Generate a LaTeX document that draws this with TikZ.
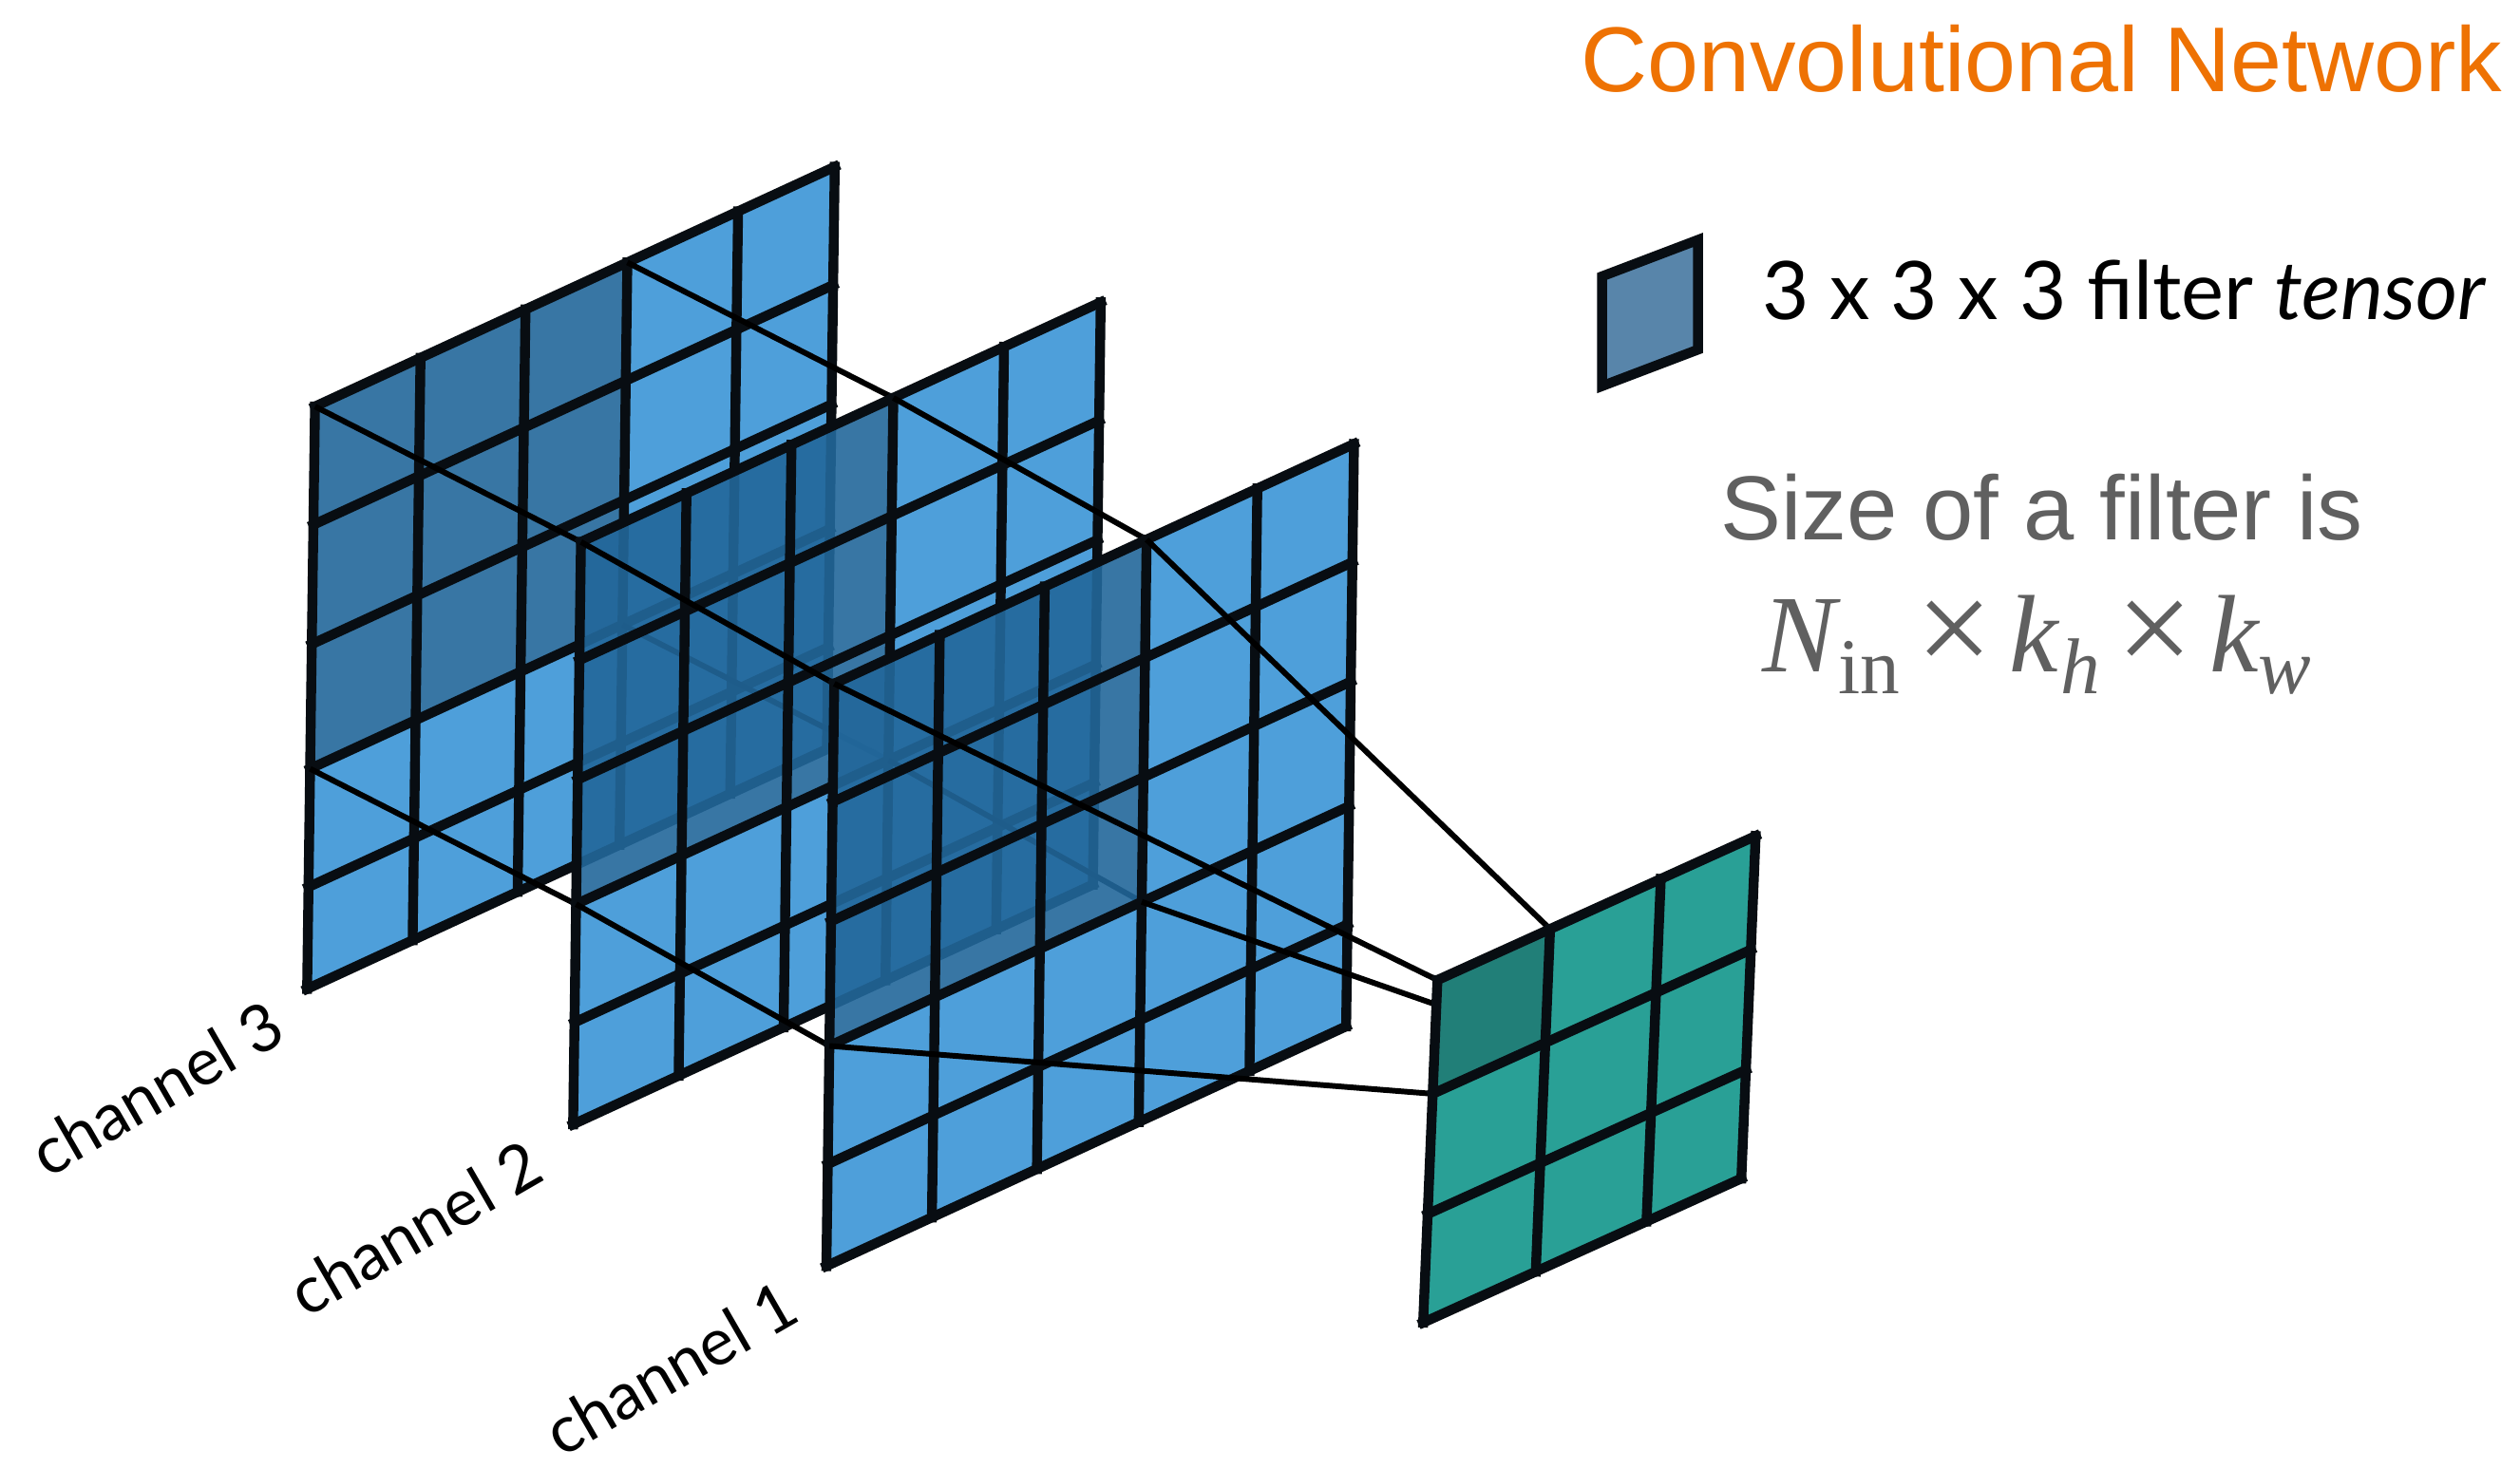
\documentclass[tikz,border=0pt]{standalone}
\usepackage{fontspec}
\setmainfont{Lato}
\newfontfamily\helvf{Liberation Sans}
\newfontfamily\timesf{Liberation Serif}
\newfontfamily\avenf{Lato}
\definecolor{bluelt}{HTML}{3B95D6}
\definecolor{bluedk}{HTML}{22679A}
\definecolor{gridc}{HTML}{080D12}
\definecolor{tealc}{HTML}{29A096}
\definecolor{tealdk}{HTML}{217F78}
\definecolor{legfill}{HTML}{5885AA}
\definecolor{orangec}{HTML}{EE7203}
\definecolor{grayc}{HTML}{606060}
\tikzset{
  gridline/.style={draw=gridc, line width=1.75pt, line cap=rect},
  conn/.style={draw=black, line width=1.0pt},
  bluelite/.style={fill=bluelt, fill opacity=0.9},
  bluedark/.style={fill=bluedk, fill opacity=0.9},
  chlabel/.style={anchor=base west, inner sep=0pt, rotate=30, font=\avenf\fontsize{11.6}{14}\selectfont},
}
\newcommand\mkpanel[3]{%
  \foreach \ii/\pu in {0/0,1/0.203,2/0.405,3/0.601,4/0.814,5/1}{%
    \foreach \jj/\pv in {0/0,1/0.203,2/0.408,3/0.622,4/0.825,5/1}{%
      \coordinate (#1-\ii-\jj) at ({#2+\pu*323.4-\pv*4.9},{#3-\pu*149.2+\pv*362.5});
    }%
  }%
}
\newcommand\drawpanel[1]{%
  \fill[bluelite] (#1-3-0) -- (#1-5-0) -- (#1-5-5) -- (#1-0-5) -- (#1-0-3) -- (#1-3-3) -- cycle;
  \fill[bluedark] (#1-0-0) -- (#1-3-0) -- (#1-3-3) -- (#1-0-3) -- cycle;
  \foreach \kk in {0,...,5}{%
    \draw[gridline] (#1-\kk-0) -- (#1-\kk-5);
    \draw[gridline] (#1-0-\kk) -- (#1-5-\kk);
  }%
}
\begin{document}
\begin{tikzpicture}[x=0.01cm, y=-0.01cm]
\path[use as bounding box] (0,0) rectangle (1568,914);

% panel corner grids
\mkpanel{cc}{196}{253}
\mkpanel{cb}{361.5}{337.3}
\mkpanel{ca}{519.1}{425.5}
% output (teal) grid
\foreach \ii/\pu in {0/0,1/0.354,2/0.702,3/1}{%
  \foreach \jj/\pv in {0/0,1/0.332,2/0.683,3/1}{%
    \coordinate (tt-\ii-\jj) at ({894.4+\pu*198-\pv*8.9},{610-\pu*89.7+\pv*213.2});
  }%
}

% channel 3
\drawpanel{cc}
\draw[conn] (cc-0-0) -- (cb-0-0);
\draw[conn] (cc-3-0) -- (cb-3-0);
\draw[conn] (cc-0-3) -- (cb-0-3);
\draw[conn] (cc-3-3) -- (cb-3-3);
% channel 2
\drawpanel{cb}
\draw[conn] (cb-0-0) -- (ca-0-0);
\draw[conn] (cb-3-0) -- (ca-3-0);
\draw[conn] (cb-0-3) -- (ca-0-3);
\draw[conn] (cb-3-3) -- (ca-3-3);
% channel 1
\drawpanel{ca}
\draw[conn] (ca-0-0) -- (tt-0-0);
\draw[conn] (ca-3-0) -- (tt-1-0);
\draw[conn] (ca-0-3) -- (tt-0-1);
\draw[conn] (ca-3-3) -- (tt-1-1);
% output panel
\fill[tealc] (tt-0-0) -- (tt-3-0) -- (tt-3-3) -- (tt-0-3) -- cycle;
\fill[tealdk] (tt-0-0) -- (tt-1-0) -- (tt-1-1) -- (tt-0-1) -- cycle;
\foreach \kk in {0,...,3}{%
  \draw[gridline] (tt-\kk-0) -- (tt-\kk-3);
  \draw[gridline] (tt-0-\kk) -- (tt-3-\kk);
}

% legend
\coordinate (lg1) at (996.8,172);
\coordinate (lg2) at (1056.5,149.3);
\coordinate (lg3) at (1056.5,217.6);
\coordinate (lg4) at (996.8,240.3);
\draw[fill=legfill, draw=gridc, line width=1.75pt, line cap=rect] (lg1) -- (lg2) -- (lg3) -- (lg4) -- cycle;
\node[anchor=base west, inner sep=0pt, font=\avenf\fontsize{14.3}{17}\selectfont] (legtext) at (1096,199) {3 x 3 x 3 filter \textit{tensor}};

% title and size text
\node[anchor=base west, inner sep=0pt, text=orangec, font=\helvf\fontsize{16.3}{19}\selectfont] (title) at (983,57) {Convolutional Network};
\node[anchor=base west, inner sep=0pt, text=grayc, font=\helvf\fontsize{16.1}{19}\selectfont] (sizetext) at (1070,336) {Size of a filter is};
\node[anchor=base west, inner sep=0pt, text=grayc, font=\timesf\fontsize{19.5}{22}\selectfont] (formula) at (1096,418)
  {\itshape N\kern0.02em\raisebox{-0.2em}{\upshape\fontsize{14}{16}\selectfont in}\kern0.15em\raisebox{-0.02em}{\upshape\fontsize{24}{26}\selectfont ×}\kern0.15em k\kern0.02em\raisebox{-0.2em}{\fontsize{14}{16}\selectfont h}\kern0.15em\raisebox{-0.02em}{\upshape\fontsize{24}{26}\selectfont ×}\kern0.15em k\raisebox{-0.2em}{\fontsize{14}{16}\selectfont w}};

% channel labels
\node[chlabel] (lab3) at (29,734) {channel 3};
\node[chlabel] (lab2) at (190,821) {channel 2};
\node[chlabel] (lab1) at (349,908) {channel 1};
\end{tikzpicture}
\end{document}
